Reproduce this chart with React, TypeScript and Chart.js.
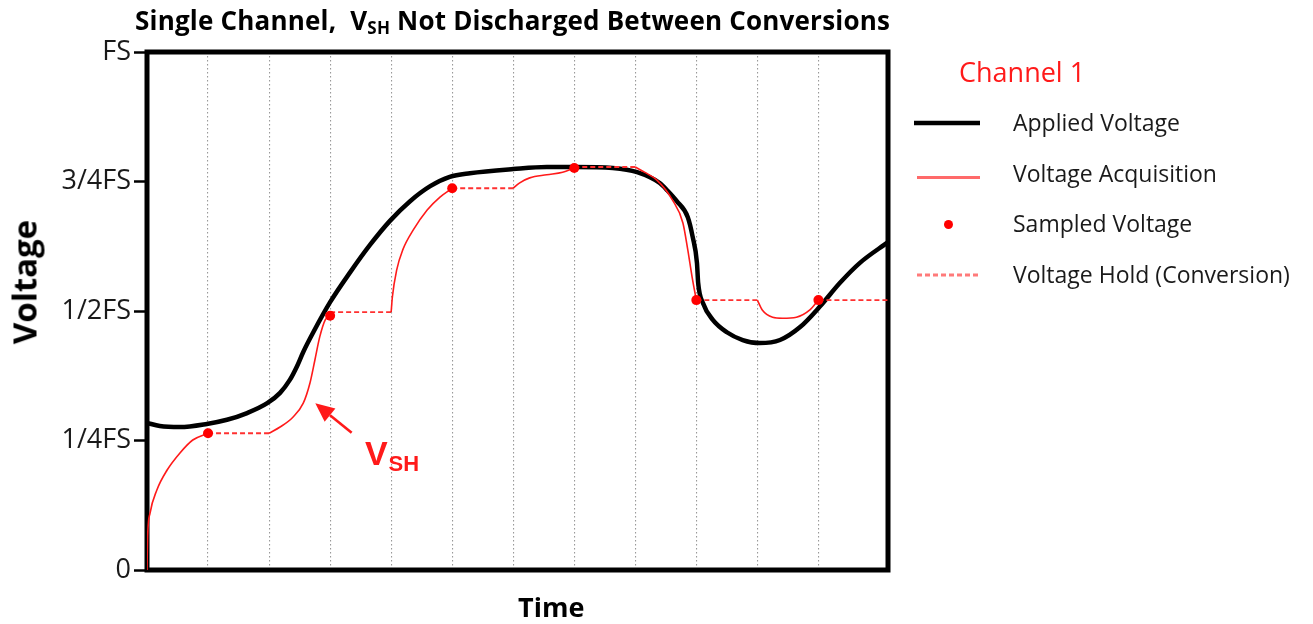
import React, { useEffect, useRef } from 'react';
import { Chart, registerables } from 'chart.js';

Chart.register(...registerables);

// ---------- data ----------
const gridTimes = [1, 2, 3, 4, 5, 6, 7, 8, 9, 10, 11];
const timeMax = 12.14;
const voltageTicks = [0, 0.25, 0.5, 0.75, 1];
const voltageTickLabels = ['0', '1/4FS', '1/2FS', '3/4FS', 'FS'];

const appliedTime = [0, 0.21, 0.54, 0.98, 1.31, 1.64, 1.97, 2.18, 2.34, 2.46, 2.56, 2.72, 3.0, 3.33, 3.65, 3.98, 4.31, 4.64, 4.96, 5.29, 6.0, 6.55, 7.01, 7.63, 8.03, 8.4, 8.53, 8.68, 8.86, 8.94, 9.01, 9.03, 9.11, 9.27, 9.5, 9.76, 10.04, 10.37, 10.7, 11.02, 11.35, 11.68, 12.14];
const appliedVolt = [0.284, 0.278, 0.276, 0.282, 0.29, 0.303, 0.322, 0.342, 0.367, 0.394, 0.421, 0.458, 0.517, 0.575, 0.627, 0.674, 0.712, 0.741, 0.759, 0.766, 0.774, 0.778, 0.778, 0.776, 0.768, 0.747, 0.732, 0.712, 0.681, 0.643, 0.593, 0.554, 0.515, 0.483, 0.459, 0.444, 0.438, 0.444, 0.469, 0.508, 0.554, 0.593, 0.633];

// acquisition segments (null = gap between segments)
const acquisitionTime = [
  0, 0.01, 0.05, 0.16, 0.33, 0.54, 0.75, 1.0, 1.0,
  2.0, 2.18, 2.39, 2.56, 2.67, 2.75, 2.83, 2.92, 3.0, 3.0,
  4.0, 4.02, 4.09, 4.19, 4.36, 4.59, 4.8, 5.0, 5.0,
  6.0, 6.1, 6.27, 6.55, 6.81, 7.0, 7.0,
  8.0, 8.15, 8.35, 8.61, 8.78, 8.86, 8.93, 9.0, 9.0,
  10.0, 10.08, 10.25, 10.41, 10.64, 10.86, 11.0,
];
const acquisitionVolt = [
  0, 0.064, 0.11, 0.154, 0.193, 0.226, 0.251, 0.264, null,
  0.264, 0.276, 0.295, 0.322, 0.361, 0.405, 0.45, 0.483, 0.491, null,
  0.498, 0.527, 0.579, 0.618, 0.656, 0.695, 0.72, 0.737, null,
  0.737, 0.747, 0.757, 0.763, 0.768, 0.776, null,
  0.778, 0.768, 0.753, 0.714, 0.67, 0.618, 0.566, 0.521, null,
  0.521, 0.502, 0.488, 0.486, 0.488, 0.502, 0.521,
];

const sampleTime = [1, 3, 5, 7, 9, 11];
const sampleVolt = [0.264, 0.491, 0.737, 0.776, 0.521, 0.521];

const holdStart = [1, 3, 5, 7, 9, 11];
const holdEnd = [2, 4, 6, 8, 10, 12.14];
const holdLevel = [0.264, 0.498, 0.737, 0.778, 0.521, 0.521];

const legendLabels = ['Applied Voltage', 'Voltage Acquisition', 'Sampled Voltage', 'Voltage Hold (Conversion)'];

// annotation anchors (data units)
const arrowTail = { x: 3.353, y: 0.265 };
const arrowTip = { x: 2.757, y: 0.322 };
const vshLabelAt = { x: 3.57, y: 0.203 };

// ---------- styles ----------
const FONT = '"Open Sans", "DejaVu Sans", sans-serif';
const RED = '#ff1a1a';

function Txt(props: { x: number; base: number; size: number; bold?: boolean; color?: string; spacing?: number; children: any }) {
  const { x, base, size, bold, color, spacing, children } = props;
  return (
    <div
      style={{
        position: 'absolute',
        left: x,
        top: base - 0.888 * size,
        fontFamily: FONT,
        fontSize: size,
        lineHeight: `${size}px`,
        fontWeight: bold ? 700 : 400,
        color: color || '#1a1a1a',
        letterSpacing: spacing ? `${spacing}px` : undefined,
        whiteSpace: 'pre',
      }}
    >
      {children}
    </div>
  );
}

export default function App() {
  const ref = useRef<HTMLCanvasElement>(null);

  useEffect(() => {
    const canvas = ref.current;
    if (!canvas) return;

    const appliedData = appliedTime.map((t, i) => ({ x: t, y: appliedVolt[i] }));
    const acqData = acquisitionTime.map((t, i) => ({ x: t, y: acquisitionVolt[i] }));
    const holdData: { x: number; y: number | null }[] = [];
    holdStart.forEach((s, i) => {
      holdData.push({ x: s, y: holdLevel[i] }, { x: holdEnd[i], y: holdLevel[i] });
      if (i < holdStart.length - 1) holdData.push({ x: holdEnd[i], y: null });
    });
    const sampleData = sampleTime.map((t, i) => ({ x: t, y: sampleVolt[i] }));

    const framePlugin = {
      id: 'frame',
      beforeDatasetsDraw(chart: any) {
        const { ctx, chartArea: a } = chart;
        ctx.save();
        ctx.lineWidth = 5;
        ctx.strokeStyle = '#000';
        ctx.strokeRect(a.left, a.top, a.right - a.left, a.bottom - a.top);
        ctx.restore();
      },
    };

    const annotPlugin = {
      id: 'vsh',
      afterDatasetsDraw(chart: any) {
        const { ctx } = chart;
        const xs = chart.scales.x;
        const ys = chart.scales.y;
        const x1 = xs.getPixelForValue(arrowTail.x);
        const y1 = ys.getPixelForValue(arrowTail.y);
        const x2 = xs.getPixelForValue(arrowTip.x);
        const y2 = ys.getPixelForValue(arrowTip.y);
        const ang = Math.atan2(y2 - y1, x2 - x1);
        const headLen = 19;
        const headW = 8.5;
        const bx = x2 - headLen * Math.cos(ang);
        const by = y2 - headLen * Math.sin(ang);
        ctx.save();
        ctx.strokeStyle = RED;
        ctx.fillStyle = RED;
        ctx.lineWidth = 2.6;
        ctx.beginPath();
        ctx.moveTo(x1, y1);
        ctx.lineTo(bx, by);
        ctx.stroke();
        ctx.beginPath();
        ctx.moveTo(x2, y2);
        ctx.lineTo(bx + headW * Math.sin(ang), by - headW * Math.cos(ang));
        ctx.lineTo(bx - headW * Math.sin(ang), by + headW * Math.cos(ang));
        ctx.closePath();
        ctx.fill();

        const lx = xs.getPixelForValue(vshLabelAt.x);
        const ly = ys.getPixelForValue(vshLabelAt.y);
        ctx.textAlign = 'left';
        ctx.textBaseline = 'alphabetic';
        ctx.font = 'bold 34px "Liberation Sans", Arial, sans-serif';
        ctx.fillText('V', lx, ly);
        const w = ctx.measureText('V').width;
        ctx.font = 'bold 22px "Liberation Sans", Arial, sans-serif';
        ctx.fillText('SH', lx + w + 1, ly + 6);
        ctx.restore();
      },
    };

    const chart = new Chart(canvas, {
      type: 'line',
      data: {
        datasets: [
          {
            label: legendLabels[2],
            data: sampleData,
            showLine: false,
            pointRadius: 5,
            pointHoverRadius: 5,
            pointBackgroundColor: '#ff0000',
            pointBorderWidth: 0,
            borderColor: '#ff0000',
          },
          {
            label: legendLabels[1],
            data: acqData,
            borderColor: RED,
            borderWidth: 1.6,
            pointRadius: 0,
            cubicInterpolationMode: 'monotone',
            spanGaps: false,
          },
          {
            label: legendLabels[3],
            data: holdData,
            borderColor: '#ff3030',
            borderWidth: 1.8,
            borderDash: [5, 3],
            pointRadius: 0,
            spanGaps: false,
          },
          {
            label: legendLabels[0],
            data: appliedData,
            borderColor: '#000',
            borderWidth: 4.5,
            pointRadius: 0,
            cubicInterpolationMode: 'monotone',
          },
        ],
      } as any,
      options: {
        responsive: false,
        animation: false,
        devicePixelRatio: 1,
        events: [],
        layout: { padding: { left: 0, right: 425, top: 52, bottom: 0 } },
        plugins: {
          legend: { display: false },
          title: { display: false },
          tooltip: { enabled: false },
        },
        scales: {
          x: {
            type: 'linear',
            min: 0,
            max: timeMax,
            afterBuildTicks: (s: any) => {
              s.ticks = gridTimes.map((v) => ({ value: v }));
            },
            afterFit: (s: any) => {
              s.height = 54;
            },
            ticks: { display: false },
            grid: { color: '#999999', lineWidth: 1.1, drawTicks: false },
            border: { display: false, dash: [1.5, 2.5] },
          },
          y: {
            type: 'linear',
            min: 0,
            max: 1,
            afterBuildTicks: (s: any) => {
              s.ticks = voltageTicks.map((v) => ({ value: v }));
            },
            afterFit: (s: any) => {
              s.width = 147;
            },
            ticks: {
              padding: 3,
              color: '#1a1a1a',
              font: { family: FONT, size: 27 },
              callback: (_v: any, i: number) => voltageTickLabels[i],
            },
            grid: { drawOnChartArea: false, drawTicks: true, tickLength: 13, tickWidth: 2.5, tickColor: '#000' },
            border: { display: false },
          },
        },
      } as any,
      plugins: [framePlugin, annotPlugin],
    });

    return () => chart.destroy();
  }, []);

  const rowBase = [131.7, 182.4, 232.5, 283];
  return (
    <div style={{ position: 'absolute', left: 0, top: 0, width: 1313, height: 624, background: '#fff', overflow: 'hidden' }}>
      <canvas ref={ref} width={1313} height={624} style={{ position: 'absolute', left: 0, top: 0, width: 1313, height: 624 }} />
      <Txt x={135} base={30} size={26} bold spacing={0.2} color="#000">
        {'Single Channel,  V'}
        <span style={{ fontSize: 17, position: 'relative', top: 4 }}>SH</span>
        {' Not Discharged Between Conversions'}
      </Txt>
      <div
        style={{
          position: 'absolute',
          left: 24,
          top: 282,
          transform: 'translate(-50%, -50%) rotate(-90deg)',
          fontFamily: FONT,
          fontWeight: 700,
          fontSize: 33,
          lineHeight: '33px',
          color: '#000',
          whiteSpace: 'nowrap',
        }}
      >
        Voltage
      </div>
      <Txt x={518} base={617} size={27} bold color="#000">
        Time
      </Txt>
      <Txt x={959} base={81.7} size={27} color="#ff1a1a">
        Channel 1
      </Txt>
      <svg width={1313} height={624} style={{ position: 'absolute', left: 0, top: 0, pointerEvents: 'none' }}>
        <line x1={914} y1={123} x2={980} y2={123} stroke="#000" strokeWidth={4.5} />
        <line x1={917} y1={177.5} x2={980} y2={177.5} stroke="#ff6a6a" strokeWidth={3} />
        <circle cx={948.5} cy={224.5} r={4.5} fill="#ff0000" />
        <line x1={917} y1={275} x2={980} y2={275} stroke="#ff7a7a" strokeWidth={3} strokeDasharray="5 3" />
      </svg>
      {legendLabels.map((l, i) => (
        <Txt key={l} x={1013} base={rowBase[i]} size={23}>
          {l}
        </Txt>
      ))}
    </div>
  );
}
